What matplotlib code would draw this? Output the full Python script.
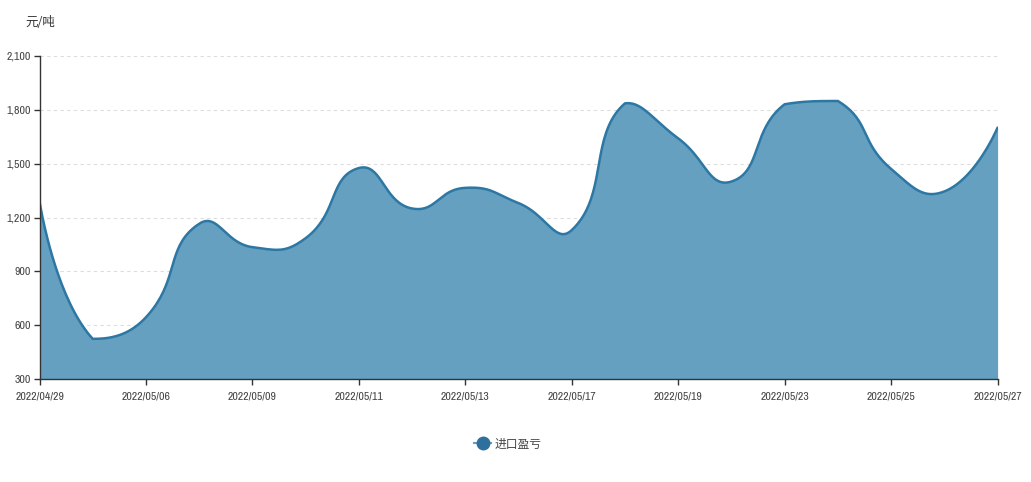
import matplotlib
matplotlib.use("Agg")
import matplotlib.pyplot as plt
import numpy as np
from matplotlib.lines import Line2D
from matplotlib.ticker import FuncFormatter, MultipleLocator

plt.rcParams["font.family"] = ["Archivo Narrow", "Noto Sans CJK SC", "DejaVu Sans"]

# ========================
# Data
# ========================

DATES = [
    "2022/04/29", "2022/05/05", "2022/05/06", "2022/05/07", "2022/05/09",
    "2022/05/10", "2022/05/11", "2022/05/12", "2022/05/13", "2022/05/16",
    "2022/05/17", "2022/05/18", "2022/05/19", "2022/05/20", "2022/05/23",
    "2022/05/24", "2022/05/25", "2022/05/26", "2022/05/27",
]
VALUES = [
    1290, 525, 645, 1165, 1035,
    1085, 1475, 1250, 1365, 1280,
    1130, 1835, 1640, 1400, 1830,
    1848, 1470, 1345, 1700,
]
SERIES_NAME = "进口盈亏"
UNIT = "元/吨"

FILL_COLOR = "#65a0c0"
LINE_COLOR = "#2c77a3"
AXIS_COLOR = "#333333"
TEXT_COLOR = "#444444"
GRID_COLOR = "#dddddd"


def echarts_smooth(pts, smooth=0.5, n=40):
    # bezier smoothing the way echarts 4 draws a smooth line (pixel space)
    pts = np.asarray(pts, dtype=float)
    lo = pts.min(axis=0)
    hi = pts.max(axis=0)
    out = [pts[0]]
    cp0 = pts[0].copy()
    t = np.linspace(0, 1, n)[1:, None]
    for i in range(1, len(pts)):
        p = pts[i]
        prev = pts[i - 1]
        if i + 1 < len(pts):
            nxt = pts[i + 1]
            v = nxt - prev
            len_prev = np.hypot(*(p - prev))
            len_next = np.hypot(*(p - nxt))
            ratio = len_next / (len_next + len_prev)
            next_cp0 = p - v * smooth * (1 - ratio)
        else:
            v = np.zeros(2)
            ratio = 0.5
            next_cp0 = p.copy()
        c0 = np.clip(cp0, lo, hi)
        c1 = np.clip(next_cp0, lo, hi)
        seg = ((1 - t) ** 3) * prev + 3 * ((1 - t) ** 2) * t * c0 + 3 * (1 - t) * (t ** 2) * c1 + (t ** 3) * p
        out.extend(seg)
        cp0 = p + v * smooth * ratio
    return np.array(out)


def main():
    W, H = 1031, 482
    fig = plt.figure(figsize=(W / 100, H / 100), dpi=100)

    left, right, top, bottom = 39.5, 997.6, 55.7, 379.3
    ax = fig.add_axes([left / W, 1 - bottom / H, (right - left) / W, (bottom - top) / H])

    x = np.arange(len(DATES))
    ax.set_xlim(0, len(DATES) - 1)
    ax.set_ylim(300, 2100)

    # smooth curve computed in pixel space, then mapped back to data
    pix = ax.transData.transform(np.column_stack([x, VALUES]))
    curve = ax.transData.inverted().transform(echarts_smooth(pix))

    ax.fill_between(curve[:, 0], curve[:, 1], 300, color=FILL_COLOR, linewidth=0, zorder=2)
    ax.plot(curve[:, 0], curve[:, 1], color=LINE_COLOR, linewidth=1.8, zorder=3,
            solid_capstyle="round")

    # Axes styling
    for side in ("top", "right"):
        ax.spines[side].set_visible(False)
    for side in ("left", "bottom"):
        ax.spines[side].set_color(AXIS_COLOR)
        ax.spines[side].set_linewidth(1)
        ax.spines[side].set_zorder(4)

    ax.yaxis.set_major_locator(MultipleLocator(300))
    ax.yaxis.set_major_formatter(FuncFormatter(lambda v, _: f"{int(v):,}"))
    ax.set_xticks(x[::2])
    ax.set_xticklabels(DATES[::2])

    ax.tick_params(axis="both", colors=AXIS_COLOR, labelcolor=TEXT_COLOR,
                   labelsize=8.5, length=4, width=1)
    ax.tick_params(axis="y", pad=2)
    ax.tick_params(axis="x", pad=5)

    for v in range(600, 2101, 300):
        ax.axhline(v, color=GRID_COLOR, linewidth=0.8, linestyle=(0, (3, 3)), zorder=1)

    fig.text(40 / W, 1 - 23 / H, UNIT, ha="center", va="center", fontsize=9,
             color=AXIS_COLOR, family=["Noto Sans CJK SC", "DejaVu Sans"])

    handle = Line2D([0], [0], color=FILL_COLOR, linewidth=1.5, marker="o",
                    markersize=9, markerfacecolor="#2e6f9e", markeredgecolor="#2e6f9e")
    fig.legend(handles=[handle], labels=[SERIES_NAME], loc="center",
               bbox_to_anchor=(508 / W, 1 - 444 / H), frameon=False,
               handlelength=1.4, handletextpad=0.3,
               labelcolor=TEXT_COLOR, prop={"family": ["Noto Sans CJK SC", "DejaVu Sans"], "size": 8.5})

    fig.savefig("out.png", dpi=100)


if __name__ == "__main__":
    main()
